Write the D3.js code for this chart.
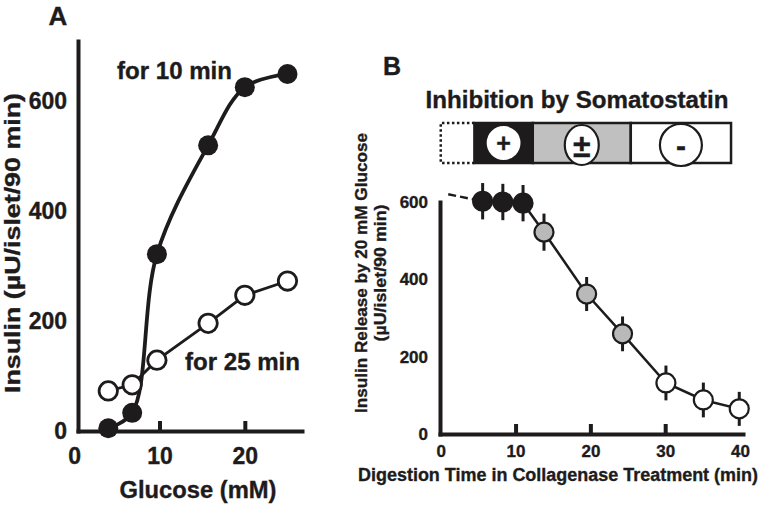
<!DOCTYPE html>
<html>
<head>
<meta charset="utf-8">
<script src="https://cdn.jsdelivr.net/npm/d3@7/dist/d3.min.js"></script>
<style>
  html, body { margin: 0; padding: 0; background: #fff; }
  svg { display: block; }
  text { font-family: "Liberation Sans", Arial, Helvetica, sans-serif; font-weight: bold; fill: #1e1b1c; stroke: #1e1b1c; stroke-width: 0.35px; }
</style>
</head>
<body>
<svg id="chart" width="763" height="509"></svg>
<script>
// ---------- Panel A data ----------
const aGlucose = [4, 6.8, 9.7, 15.7, 20, 25];           // mM
const a10min   = [5, 33, 322, 520, 626, 650];           // µU/islet/90 min
const a25min   = [73, 84, 129, 196, 247, 273];
const aYTicks  = [0, 200, 400, 600];
const aXTicks  = [0, 10, 20];

// ---------- Panel B data ----------
const bTime     = [5.6, 8.3, 11.0, 13.8, 19.5, 24.3, 30.1, 35.1, 39.9];   // min
const bInsulin  = [602, 600, 597, 522, 362, 259, 132, 88, 65];
const bError    = [47, 47, 47, 48, 44, 45, 45, 45, 44];
const bInhibit  = ["+", "+", "+", "±", "±", "±", "-", "-", "-"];
const bDashTime = [1, 5.6];
const bDashIns  = [620, 602];
const phaseBounds = [0, 4.5, 12.3, 25.4, 38.8];
const phaseLabels = ["", "+", "±", "-"];
const bYTicks = [0, 200, 400, 600];
const bXTicks = [0, 10, 20, 30, 40];

const INK = "#1e1b1c";
const svg = d3.select("#chart");

// ================= Panel A =================
const ax = d3.scaleLinear().domain([0.45, 26.7]).range([78, 302]);
const ay = d3.scaleLinear().domain([0, 710]).range([431, 41]);

const gA = svg.append("g");

const aYAxis = gA.append("g").attr("transform", `translate(78,0)`)
  .call(d3.axisLeft(ay).tickValues(aYTicks).tickSize(0).tickSizeOuter(0).tickPadding(11));
const aXAxis = gA.append("g").attr("transform", `translate(0,${ay(0)})`)
  .call(d3.axisBottom(ax).tickValues(aXTicks).tickSizeInner(-10).tickSizeOuter(0).tickPadding(17));
[aYAxis, aXAxis].forEach(g => {
  g.select(".domain").attr("stroke", INK).attr("stroke-width", 4).attr("stroke-linecap", "square");
  g.selectAll(".tick line").attr("stroke", INK).attr("stroke-width", 4);
  g.selectAll(".tick text").attr("font-size", 23).attr("font-family", null).attr("fill", INK);
});
aXAxis.selectAll(".tick").filter(d => d === 0).select("line").remove();

const aPts10 = aGlucose.map((g, i) => [g, a10min[i]]);
const aPts25 = aGlucose.map((g, i) => [g, a25min[i]]);
gA.append("path").datum(aPts25)
  .attr("d", d3.line().x(d => ax(d[0])).y(d => ay(d[1])))
  .attr("fill", "none").attr("stroke", INK).attr("stroke-width", 2.8);
gA.append("path").datum(aPts10)
  .attr("d", d3.line().x(d => ax(d[0])).y(d => ay(d[1])).curve(d3.curveCatmullRom.alpha(0.5)))
  .attr("fill", "none").attr("stroke", INK).attr("stroke-width", 3.8);

gA.selectAll("circle.open").data(aPts25).join("circle").attr("class", "open")
  .attr("cx", d => ax(d[0])).attr("cy", d => ay(d[1])).attr("r", 9.2)
  .attr("fill", "#fff").attr("stroke", INK).attr("stroke-width", 2.8);
gA.selectAll("circle.filled").data(aPts10).join("circle").attr("class", "filled")
  .attr("cx", d => ax(d[0])).attr("cy", d => ay(d[1])).attr("r", 10)
  .attr("fill", INK);

gA.append("text").attr("x", 58).attr("y", 25).attr("text-anchor", "middle").attr("font-size", 26).text("A");
gA.append("text").attr("x", 117).attr("y", 79).attr("font-size", 23)
  .attr("textLength", 115).attr("lengthAdjust", "spacingAndGlyphs").text("for 10 min");
gA.append("text").attr("x", 185).attr("y", 370).attr("font-size", 23)
  .attr("textLength", 115).attr("lengthAdjust", "spacingAndGlyphs").text("for 25 min");
gA.append("text").attr("x", 198).attr("y", 498).attr("text-anchor", "middle").attr("font-size", 23)
  .attr("textLength", 157).attr("lengthAdjust", "spacingAndGlyphs").text("Glucose (mM)");
gA.append("text").attr("transform", "translate(20,243) rotate(-90)").attr("text-anchor", "middle")
  .attr("font-size", 22).attr("textLength", 300).attr("lengthAdjust", "spacingAndGlyphs")
  .text("Insulin (µU/islet/90 min)");

// ================= Panel B =================
const bx = d3.scaleLinear().domain([-0.1, 40.4]).range([440, 743]);
const by = d3.scaleLinear().domain([0, 600]).range([434, 202]);
const gB = svg.append("g");

const bYAxis = gB.append("g").attr("transform", `translate(440,0)`)
  .call(d3.axisLeft(by).tickValues(bYTicks).tickSize(0).tickSizeOuter(0).tickPadding(12));
const bXAxis = gB.append("g").attr("transform", `translate(0,${by(0)})`)
  .call(d3.axisBottom(bx).tickValues(bXTicks).tickSizeInner(-10).tickSizeOuter(0).tickPadding(11));
[bYAxis, bXAxis].forEach(g => {
  g.select(".domain").attr("stroke", INK).attr("stroke-width", 4).attr("stroke-linecap", "square");
  g.selectAll(".tick line").attr("stroke", INK).attr("stroke-width", 4);
  g.selectAll(".tick text").attr("font-size", 17).attr("font-family", null).attr("fill", INK);
});
bXAxis.selectAll(".tick").filter(d => d === 0 || d === 40).select("line").remove();

const bPts = bTime.map((t, i) => ({ t, v: bInsulin[i], e: bError[i], k: bInhibit[i] }));

gB.append("path").datum(bDashTime.map((t, i) => [t, bDashIns[i]]))
  .attr("d", d3.line().x(d => bx(d[0])).y(d => by(d[1])))
  .attr("fill", "none").attr("stroke", INK).attr("stroke-width", 2.5).attr("stroke-dasharray", "8,4");
gB.append("path").datum(bPts)
  .attr("d", d3.line().x(d => bx(d.t)).y(d => by(d.v)))
  .attr("fill", "none").attr("stroke", INK).attr("stroke-width", 2.5);
gB.selectAll("line.err").data(bPts).join("line").attr("class", "err")
  .attr("x1", d => bx(d.t)).attr("x2", d => bx(d.t))
  .attr("y1", d => by(d.v + d.e)).attr("y2", d => by(d.v - d.e))
  .attr("stroke", INK).attr("stroke-width", 3);
const fillFor = k => k === "+" ? INK : (k === "±" ? "#b9b9b9" : "#fff");
gB.selectAll("circle.pt").data(bPts).join("circle").attr("class", "pt")
  .attr("cx", d => bx(d.t)).attr("cy", d => by(d.v)).attr("r", 9.5)
  .attr("fill", d => fillFor(d.k)).attr("stroke", INK).attr("stroke-width", 2.2);

const boxTop = 123, boxBot = 163;
const phases = phaseLabels.map((l, i) => ({ l, x0: phaseBounds[i], x1: phaseBounds[i + 1] }));
const boxFill = l => l === "+" ? INK : (l === "±" ? "#c0c0c0" : "#fff");
const p0 = phases[0];
gB.append("path")
  .attr("d", `M${bx(p0.x1)},${boxTop} H${bx(p0.x0)} V${boxBot} H${bx(p0.x1)}`)
  .attr("fill", "none").attr("stroke", INK).attr("stroke-width", 2.5).attr("stroke-dasharray", "2.5,2.5");
gB.selectAll("rect.phase").data(phases.slice(1)).join("rect").attr("class", "phase")
  .attr("x", d => bx(d.x0)).attr("y", boxTop).attr("width", d => bx(d.x1) - bx(d.x0)).attr("height", boxBot - boxTop)
  .attr("fill", d => boxFill(d.l)).attr("stroke", INK).attr("stroke-width", 2.5);
const rad = { "+": [18, 18, 143], "±": [17, 20, 145], "-": [21, 21, 145] };
gB.selectAll("ellipse.sym").data(phases.slice(1)).join("ellipse").attr("class", "sym")
  .attr("cx", d => bx((d.x0 + d.x1) / 2)).attr("cy", d => rad[d.l][2])
  .attr("rx", d => rad[d.l][0]).attr("ry", d => rad[d.l][1])
  .attr("fill", "#fff").attr("stroke", INK).attr("stroke-width", 2.2);
gB.selectAll("text.sym").data(phases.slice(1)).join("text").attr("class", "sym")
  .attr("x", d => bx((d.x0 + d.x1) / 2)).attr("y", d => rad[d.l][2])
  .attr("dy", "0.36em").attr("text-anchor", "middle")
  .attr("font-size", d => d.l === "-" ? 30 : (d.l === "±" ? 32 : 25))
  .attr("stroke-width", d => d.l === "-" ? 1.6 : 0.6)
  .text(d => d.l);

gB.append("text").attr("x", 383).attr("y", 75).attr("font-size", 25).text("B");
gB.append("text").attr("x", 577).attr("y", 108).attr("text-anchor", "middle").attr("font-size", 23)
  .attr("textLength", 303).attr("lengthAdjust", "spacingAndGlyphs").text("Inhibition by Somatostatin");
gB.append("text").attr("x", 558).attr("y", 481).attr("text-anchor", "middle").attr("font-size", 18)
  .attr("textLength", 400).attr("lengthAdjust", "spacingAndGlyphs").text("Digestion Time in Collagenase Treatment (min)");
gB.append("text").attr("transform", "translate(367,273) rotate(-90)").attr("text-anchor", "middle")
  .attr("font-size", 17).attr("textLength", 280).attr("lengthAdjust", "spacingAndGlyphs")
  .text("Insulin Release by 20 mM Glucose");
gB.append("text").attr("transform", "translate(386,273) rotate(-90)").attr("text-anchor", "middle")
  .attr("font-size", 17).attr("textLength", 137).attr("lengthAdjust", "spacingAndGlyphs")
  .text("(µU/islet/90 min)");
</script>
</body>
</html>
